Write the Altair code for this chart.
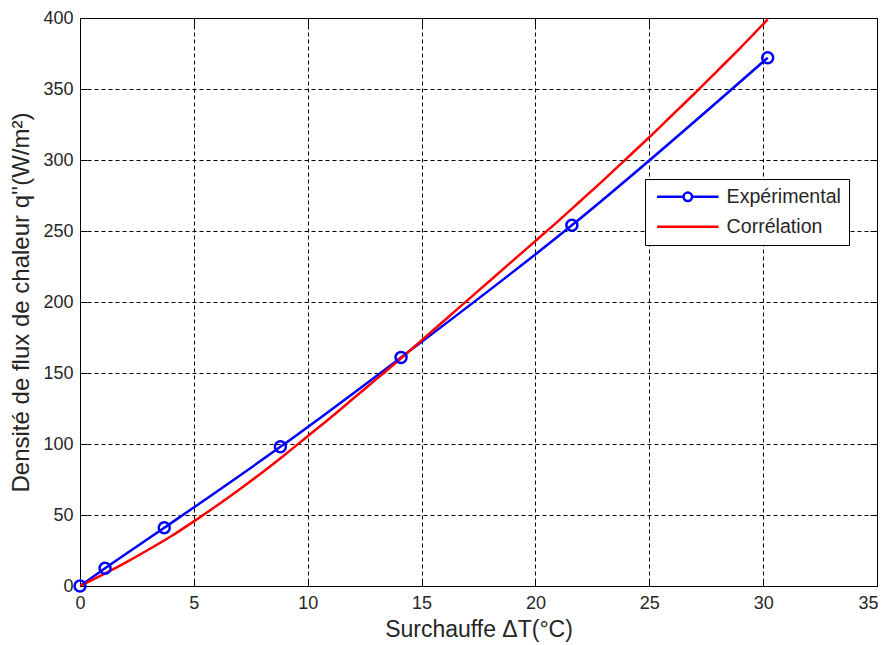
import altair as alt
import pandas as pd

# ---- data ----
exp_x = [0, 1.1, 3.7, 8.8, 14.1, 21.6, 30.2]
exp_y = [0, 12.5, 41, 98, 161, 254, 372]

cor_x = [0, 1, 2, 3, 4, 5, 6, 7, 8, 9, 10, 11, 12, 13, 14, 15, 16, 17, 18, 19,
         20, 21, 22, 23, 24, 25, 26, 27, 28, 29, 30.2]
cor_y = [0, 8, 16.5, 25.5, 35, 45.5, 56.5, 68, 80, 92.5, 105.5, 118.5, 132, 145.5,
         159, 173, 187, 201, 215, 229, 243, 257, 271.5, 286, 301, 316, 331.5, 347,
         363, 379, 399]

series_names = ["Expérimental", "Corrélation"]
series_colors = ["#0000ff", "#ff0000"]
x_ticks = [0, 5, 10, 15, 20, 25, 30, 35]
y_ticks = [0, 50, 100, 150, 200, 250, 300, 350, 400]

x_title = "Surchauffe ΔT(°C)"
y_title = "Densité de flux de chaleur q''(W/m²)"

rows = []
for i, (x, y) in enumerate(zip(exp_x, exp_y)):
    rows.append({"serie": series_names[0], "x": x, "y": y, "o": i})
for i, (x, y) in enumerate(zip(cor_x, cor_y)):
    rows.append({"serie": series_names[1], "x": x, "y": y, "o": i})
df = pd.DataFrame(rows)

FONT = "Liberation Sans"
TXT = "#262626"
W, H = 797, 568
TICK = 7

xscale = alt.Scale(domain=[0, 35], nice=False, zero=False)
yscale = alt.Scale(domain=[0, 400], nice=False, zero=False)
cscale = alt.Scale(domain=series_names, range=series_colors)

# legend symbols: line with a circle marker / plain line (unit = 5 px)
sym_exp = ("M-6.15,0L-0.85,0M0.85,0L6.15,0"
           "M-0.85,0A0.85,0.85 0 1,1 0.85,0A0.85,0.85 0 1,1 -0.85,0Z")
sym_cor = "M-6.15,0L6.15,0"

legend = alt.Legend(
    title=None,
    orient="none",
    legendX=565,
    legendY=161,
    strokeColor="black",
    fillColor="white",
    padding=8,
    cornerRadius=0,
    labelFont=FONT,
    labelFontSize=19.6,
    labelColor=TXT,
    symbolSize=100,
    symbolStrokeWidth=2.5,
    symbolOpacity=1,
    symbolFillColor="transparent",
    symbolOffset=25,
    labelOffset=29,
    rowPadding=9,
)

last_x = x_ticks[-1]
x_axis = alt.Axis(
    values=x_ticks, title=x_title, grid=True, gridColor="black", gridDash=[4, 3],
    gridWidth=1, gridOpacity=1, domain=False, ticks=True, tickSize=TICK,
    tickColor="black", tickWidth=1, offset=-TICK, labelPadding=8, labelFlush=False,
    labelAlign={"condition": {"test": f"datum.value === {last_x}", "value": "right"},
                "value": "center"},
    labelOffset={"condition": {"test": f"datum.value === {last_x}", "value": 1},
                 "value": 0},
    labelFont=FONT, labelFontSize=18, labelColor=TXT,
    titleFont=FONT, titleFontSize=23, titleFontWeight="normal", titleColor=TXT,
    titlePadding=6,
)
y_axis = alt.Axis(
    values=y_ticks, title=y_title, grid=True, gridColor="black", gridDash=[4, 3],
    gridWidth=1, gridOpacity=1, domain=False, ticks=True, tickSize=TICK,
    tickColor="black", tickWidth=1, offset=-TICK, labelPadding=7, labelFlush=False,
    labelFont=FONT, labelFontSize=18, labelColor=TXT,
    titleFont=FONT, titleFontSize=24, titleFontWeight="normal", titleColor=TXT,
    titlePadding=9,
)

base = alt.Chart(df)

lines = base.mark_line(strokeWidth=2.5, clip=True, interpolate="monotone").encode(
    x=alt.X("x:Q", scale=xscale, axis=x_axis),
    y=alt.Y("y:Q", scale=yscale, axis=y_axis),
    color=alt.Color("serie:N", scale=cscale, legend=None),
    order="o:Q",
)

points = base.transform_filter(
    alt.datum.serie == series_names[0]
).mark_point(filled=False, size=121, strokeWidth=2.5, shape="circle", opacity=1).encode(
    x=alt.X("x:Q", scale=xscale, axis=None),
    y=alt.Y("y:Q", scale=yscale, axis=None),
    color=alt.Color("serie:N", scale=cscale, legend=None),
)

# invisible layer carrying the legend (line + marker symbols)
legend_layer = base.mark_point(opacity=0, filled=False).encode(
    x=alt.X("x:Q", scale=xscale, axis=None),
    y=alt.Y("y:Q", scale=yscale, axis=None),
    color=alt.Color("serie:N", scale=cscale, legend=legend),
    shape=alt.Shape("serie:N", scale=alt.Scale(domain=series_names, range=[sym_exp, sym_cor]),
                    legend=legend),
)

# mirrored inner ticks (top / right) like a boxed MATLAB axes
mirror = base.mark_point(opacity=0).encode(
    x=alt.X("x:Q", scale=xscale, axis=alt.Axis(
        orient="top", values=x_ticks, labels=False, title=None, grid=False, domain=False,
        tickSize=TICK, tickColor="black", offset=-TICK)),
    y=alt.Y("y:Q", scale=yscale, axis=alt.Axis(
        orient="right", values=y_ticks, labels=False, title=None, grid=False, domain=False,
        tickSize=TICK, tickColor="black", offset=-TICK)),
)

chart = alt.layer(lines, points, legend_layer, mirror).resolve_scale(
    x="independent", y="independent"
).resolve_axis(x="independent", y="independent").resolve_legend(
    color="independent", shape="independent"
).properties(
    width=W, height=H,
    autosize=alt.AutoSizeParams(type="none"),
    padding={"left": 72, "top": 10, "right": 1, "bottom": 57},
    background="white",
).configure_view(
    stroke="black", strokeWidth=1
)

chart.save("out.html", embed_options={"renderer": "svg", "actions": False})
